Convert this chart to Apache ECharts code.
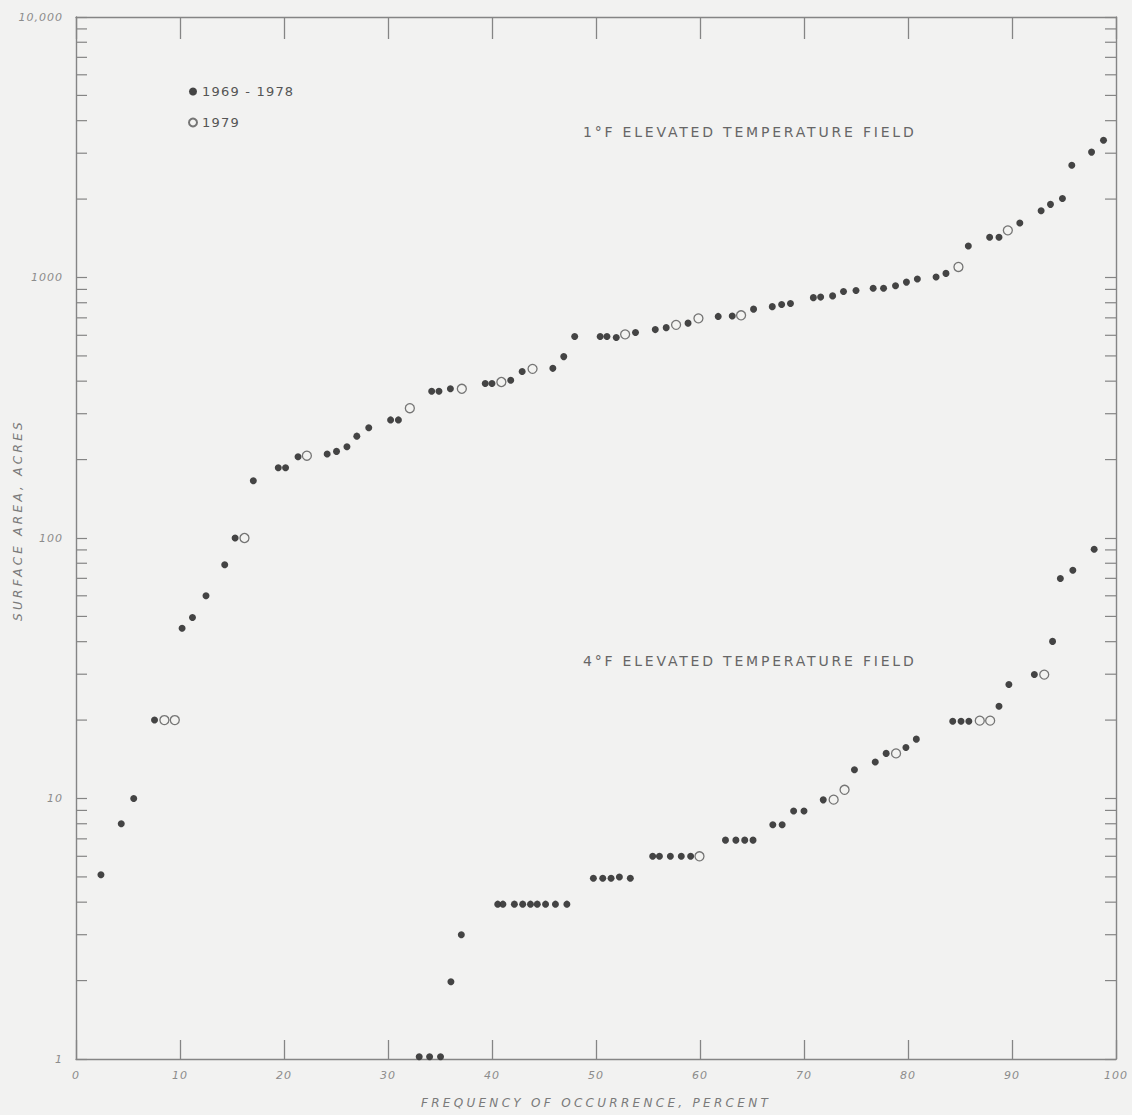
<!DOCTYPE html>
<html>
<head>
<meta charset="utf-8">
<script src="https://cdn.jsdelivr.net/npm/echarts@6/dist/echarts.min.js"></script>
<style>
  html, body { margin: 0; padding: 0; background: #f2f2f1; }
  #chart { width: 1132px; height: 1115px; }
  /* drafting-style lettering: widen the spacing per text size */
  #chart text[style*="11px"] { letter-spacing: 1px; }
  #chart text[style*="12px"] { letter-spacing: 3.3px; }
  #chart text[style*="13px"] { letter-spacing: 1.2px; }
  #chart text[style*="14px"] { letter-spacing: 2.8px; }
</style>
</head>
<body>
<div id="chart"></div>
<script>
// 1°F elevated temperature field, 1969-1978 (filled dots)
const f1BasePct = [2.4, 4.35, 5.55, 7.55, 10.2, 11.2, 12.5, 14.3, 15.3, 17.05, 19.45, 20.15, 21.35,
  24.15, 25.05, 26.05, 27.0, 28.15, 30.25, 31.0, 34.2, 34.9, 36.0, 39.35, 40.0, 41.8, 42.9, 45.85,
  46.9, 47.95, 50.4, 51.05, 51.95, 53.8, 55.7, 56.75, 58.85, 61.75, 63.1, 65.15, 66.95, 67.85, 68.7,
  70.9, 71.6, 72.75, 73.8, 75.0, 76.65, 77.65, 78.8, 79.85, 80.9, 82.7, 83.65, 85.8, 87.85, 88.75,
  90.75, 92.8, 93.7, 94.85, 95.75, 97.65, 98.8];
const f1BaseAcres = [5.1, 8.0, 10, 20, 45, 49.5, 60, 79, 100, 166, 186, 186, 205,
  210, 215, 224, 246, 265, 284, 284, 366, 366, 374, 392, 392, 403, 436, 448,
  497, 594, 594, 594, 588, 615, 631, 642, 668, 709, 712, 756, 773, 788, 795,
  837, 841, 850, 883, 892, 909, 909, 930, 960, 987, 1004, 1037, 1321, 1428, 1428,
  1618, 1805, 1909, 2011, 2698, 3029, 3365];

// 1°F elevated temperature field, 1979 (open circles)
const f1YearPct = [8.5, 9.5, 16.2, 22.2, 32.1, 37.1, 40.9, 43.9, 52.8, 57.7, 59.85, 63.95, 84.85, 89.6];
const f1YearAcres = [20, 20, 100, 207, 315, 374, 397, 446, 605, 658, 697, 716, 1098, 1517];

// 4°F elevated temperature field, 1969-1978 (filled dots)
const f4BasePct = [33.0, 34.0, 35.05, 36.05, 37.05,
  40.55, 41.05, 42.15, 42.95, 43.7, 44.35, 45.15, 46.1, 47.2,
  49.75, 50.65, 51.45, 52.25, 53.3,
  55.45, 56.1, 57.15, 58.2, 59.1,
  62.45, 63.45, 64.3, 65.1,
  67.0, 67.9, 69.0, 70.0, 71.85, 74.85, 76.85, 77.9, 79.8, 80.8,
  84.3, 85.1, 85.85, 88.75, 89.7, 92.15, 93.9, 94.65, 95.85, 97.9];
const f4BaseAcres = [1.02, 1.02, 1.02, 1.98, 3.0,
  3.93, 3.93, 3.93, 3.93, 3.93, 3.93, 3.93, 3.93, 3.93,
  4.94, 4.94, 4.94, 5.0, 4.94,
  6.0, 6.0, 6.0, 6.0, 6.0,
  6.92, 6.92, 6.92, 6.92,
  7.93, 7.93, 8.95, 8.95, 9.88, 12.9, 13.8, 14.9, 15.7, 16.9,
  19.8, 19.8, 19.8, 22.6, 27.4, 29.9, 40.1, 69.9, 75.2, 90.6];

// 4°F elevated temperature field, 1979 (open circles)
const f4YearPct = [59.95, 72.85, 73.9, 78.85, 86.9, 87.9, 93.1];
const f4YearAcres = [6.0, 9.9, 10.8, 14.9, 19.9, 19.9, 29.9];

// axis ticks and labels
const xTickValues = [0, 10, 20, 30, 40, 50, 60, 70, 80, 90, 100];
const yTickValues = [1, 10, 100, 1000, 10000];
const yTickText = ['1', '10', '100', '1000', '10,000'];
const logMultipliers = [2, 3, 4, 5, 6, 7, 8, 9];
const logDecades = [1, 10, 100, 1000];

const seriesNames = ['1969 - 1978', '1979'];
const fieldLabels = ['1°F ELEVATED TEMPERATURE FIELD', '4°F ELEVATED TEMPERATURE FIELD'];
const xTitle = 'FREQUENCY OF OCCURRENCE, PERCENT';
const yTitle = 'SURFACE AREA, ACRES';

const BG = '#f2f2f1';
const AXIS = '#858585';
const LABEL = '#8c8c8c';
const INK = '#3a3a3a';
const FONT = 'DejaVu Sans';

const pairs = (xs, ys) => xs.map((x, i) => [x, ys[i]]);
const minorTicks = [];
logDecades.forEach(d => logMultipliers.forEach(m => minorTicks.push([0, m * d])));

const chart = echarts.init(document.getElementById('chart'), null, { renderer: 'svg' });

const axisLineStyle = { lineStyle: { color: AXIS, width: 1.4 } };

chart.setOption({
  animation: false,
  backgroundColor: BG,
  grid: { left: 76, right: 16, top: 17, bottom: 56, containLabel: false, outerBoundsMode: 'none' },
  legend: {
    data: seriesNames,
    orient: 'vertical',
    left: 188,
    top: 85,
    padding: 0,
    itemGap: 18,
    itemWidth: 8,
    itemHeight: 8,
    textStyle: { color: '#555', fontSize: 13, fontFamily: FONT }
  },
  xAxis: [
    {
      type: 'value', min: 0, max: 100, interval: 10,
      position: 'bottom',
      axisLine: Object.assign({ onZero: false }, axisLineStyle),
      axisTick: { inside: true, length: 19, lineStyle: { color: AXIS, width: 1.3 } },
      splitLine: { show: false },
      axisLabel: {
        margin: 11, color: LABEL, fontSize: 11, fontStyle: 'italic', fontFamily: FONT,
        formatter: v => xTickValues.includes(v) ? String(v) : ''
      },
      name: xTitle, nameLocation: 'middle', nameGap: 38,
      nameTextStyle: { color: '#7a7a7a', fontSize: 12, fontStyle: 'italic', fontFamily: FONT }
    },
    {
      type: 'value', min: 0, max: 100, interval: 10,
      position: 'top',
      axisLine: Object.assign({ onZero: false }, axisLineStyle),
      axisTick: { inside: true, length: 22, lineStyle: { color: AXIS, width: 1.3 } },
      splitLine: { show: false },
      axisLabel: { show: false }
    }
  ],
  yAxis: [
    {
      type: 'log', logBase: 10, min: 1, max: 10000,
      position: 'left',
      axisLine: Object.assign({ onZero: false }, axisLineStyle),
      axisTick: { inside: true, length: 11, lineStyle: { color: AXIS, width: 1.2 } },
      splitLine: { show: false },
      minorTick: { show: false },
      axisLabel: {
        margin: 13, color: LABEL, fontSize: 11, fontStyle: 'italic', fontFamily: FONT,
        formatter: v => {
          const i = yTickValues.indexOf(Math.round(v));
          return i >= 0 ? yTickText[i] : '';
        }
      }
    },
    {
      type: 'log', logBase: 10, min: 1, max: 10000,
      position: 'right',
      axisLine: Object.assign({ onZero: false }, axisLineStyle),
      axisTick: { inside: true, length: 11, lineStyle: { color: AXIS, width: 1.2 } },
      splitLine: { show: false },
      axisLabel: { show: false }
    }
  ],
  graphic: [
    {
      type: 'text', x: 18, y: 520, rotation: Math.PI / 2,
      style: {
        text: yTitle, font: 'italic 12px ' + FONT, fill: '#7a7a7a',
        align: 'center', verticalAlign: 'middle', textAlign: 'center', textVerticalAlign: 'middle'
      }
    },
    {
      type: 'text', x: 583, y: 132,
      style: {
        text: fieldLabels[0], font: '14px ' + FONT, fill: '#666',
        align: 'left', verticalAlign: 'middle', textAlign: 'left', textVerticalAlign: 'middle'
      }
    },
    {
      type: 'text', x: 583, y: 661,
      style: {
        text: fieldLabels[1], font: '14px ' + FONT, fill: '#666',
        align: 'left', verticalAlign: 'middle', textAlign: 'left', textVerticalAlign: 'middle'
      }
    }
  ],
  series: [
    {
      // inward minor ticks at 2..9 of each decade, on both vertical axes
      type: 'custom',
      name: 'log minor ticks',
      silent: true,
      clip: false,
      data: minorTicks,
      renderItem: (params, api) => {
        const left = api.coord([0, api.value(1)]);
        const right = api.coord([100, api.value(1)]);
        return {
          type: 'group',
          children: [
            { type: 'line', shape: { x1: left[0], y1: left[1], x2: left[0] + 11, y2: left[1] },
              style: { stroke: AXIS, lineWidth: 1.2 } },
            { type: 'line', shape: { x1: right[0], y1: right[1], x2: right[0] - 11, y2: right[1] },
              style: { stroke: AXIS, lineWidth: 1.2 } }
          ]
        };
      }
    },
    {
      type: 'scatter', name: seriesNames[0],
      data: pairs(f1BasePct, f1BaseAcres).concat(pairs(f4BasePct, f4BaseAcres)),
      symbol: 'circle', symbolSize: 7,
      itemStyle: { color: INK, opacity: 0.95 },
      z: 3
    },
    {
      type: 'scatter', name: seriesNames[1],
      data: pairs(f1YearPct, f1YearAcres).concat(pairs(f4YearPct, f4YearAcres)),
      symbol: 'circle', symbolSize: 9,
      itemStyle: { color: BG, borderColor: '#555', borderWidth: 1.3 },
      z: 3
    }
  ]
});
</script>
</body>
</html>
